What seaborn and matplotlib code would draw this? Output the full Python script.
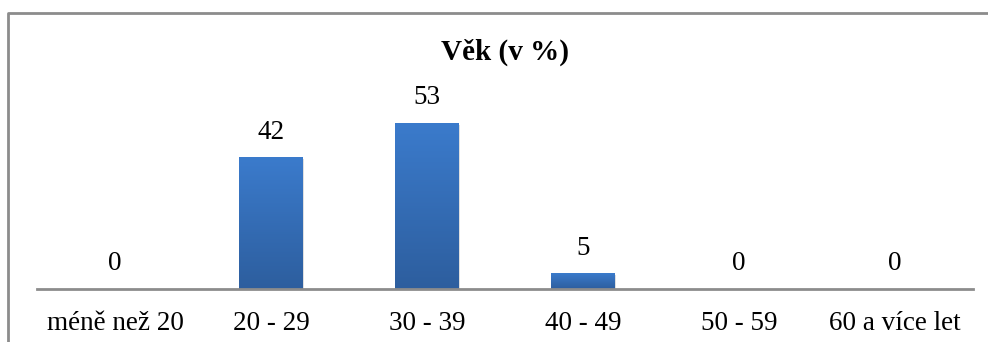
import numpy as np
import pandas as pd
import matplotlib
matplotlib.use("Agg")
import matplotlib.pyplot as plt
import seaborn as sns
from matplotlib.lines import Line2D
from matplotlib.colors import LinearSegmentedColormap
from matplotlib import patheffects as pe

categories = ["méně než 20", "20 - 29", "30 - 39", "40 - 49", "50 - 59", "60 a více let"]
values = [0, 42, 53, 5, 0, 0]
title = "Věk (v %)"

sns.set_theme(style="white")
plt.rcParams["font.family"] = ["Liberation Serif", "DejaVu Serif"]

W, H, DPI = 988, 342, 100
fig = plt.figure(figsize=(W / DPI, H / DPI), dpi=DPI)
ax_left, ax_right, ax_bottom, ax_top = 37, 973, 289, 101
ax = fig.add_axes([ax_left / W, 1 - ax_bottom / H,
                   (ax_right - ax_left) / W, (ax_bottom - ax_top) / H])

df = pd.DataFrame({"cat": categories, "val": values})
sns.barplot(data=df, x="cat", y="val", ax=ax, width=0.41,
            color="#3a74c0", saturation=1, linewidth=0)

ax.set_ylim(0, 60)
ax.set_xlim(-0.5, len(categories) - 0.5)
ax.set_xlabel("")
ax.set_ylabel("")
ax.set_yticks([])
for s in ["left", "right", "top"]:
    ax.spines[s].set_visible(False)
ax.spines["bottom"].set_color("#8c8c8c")
ax.spines["bottom"].set_linewidth(2)
ax.spines["bottom"].set_zorder(5)
ax.tick_params(axis="x", length=0, pad=16, labelsize=19.5, labelcolor="black")

# vertical gradient fill with a soft drop shadow on each bar
cmap = LinearSegmentedColormap.from_list("barblue", ["#2d5e9e", "#3b7bcc"])
grad = np.linspace(0, 1, 256).reshape(-1, 1)
for bar in ax.patches:
    x0, y0 = bar.get_x(), bar.get_y()
    w, h = bar.get_width(), bar.get_height()
    if h <= 0:
        continue
    bar.set_path_effects([pe.SimplePatchShadow(offset=(1.0, -1.5), shadow_rgbFace="#b8b8b8", alpha=0.45),
                          pe.Normal()])
    im = ax.imshow(grad, extent=(x0, x0 + w, y0, y0 + h), origin="lower",
                   cmap=cmap, aspect="auto", zorder=bar.get_zorder() + 0.1)
    im.set_clip_path(bar)

for cont in ax.containers:
    ax.bar_label(cont, labels=[str(v) for v in values], padding=9,
                 fontsize=19.5, color="black")

ax.set_aspect("auto")
ax.set_xlim(-0.5, len(categories) - 0.5)
ax.set_ylim(0, 60)

fig.text(505 / W, 1 - 52 / H, title, ha="center", va="center",
         fontsize=21, fontweight="bold", color="black")

# chart frame (left and top edges)
fig.add_artist(Line2D([7.5 / W, 7.5 / W, 1.0], [0.0, 1 - 12.5 / H, 1 - 12.5 / H],
                      transform=fig.transFigure, color="#8c8c8c", linewidth=2))

fig.savefig("out.png", dpi=DPI, facecolor="white")
